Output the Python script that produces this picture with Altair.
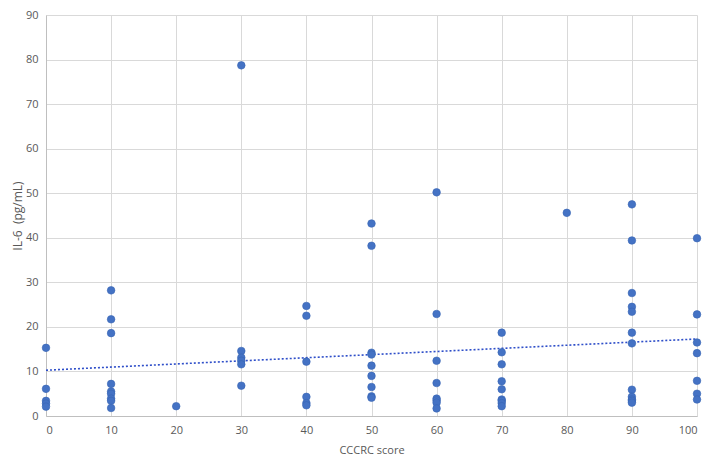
import altair as alt
import pandas as pd

# CCCRC score groups and IL-6 values (pg/mL)
x0 = [15.3, 6.1, 3.4, 2.8, 2.1]
x10 = [28.2, 21.7, 18.6, 7.2, 5.5, 5.0, 3.9, 3.4, 1.8]
x20 = [2.2]
x30 = [78.7, 14.6, 13.1, 12.4, 11.6, 6.8]
x40 = [24.7, 22.5, 12.2, 4.3, 2.9, 2.4]
x50 = [43.2, 38.2, 14.2, 13.8, 11.3, 9.0, 6.5, 4.4, 4.1]
x60 = [50.2, 22.9, 12.4, 7.4, 3.9, 3.5, 3.0, 1.7]
x70 = [18.7, 14.3, 11.6, 7.8, 6.0, 3.7, 3.4, 2.9, 2.2]
x80 = [45.6]
x90 = [47.5, 39.4, 27.6, 24.5, 23.4, 18.7, 16.3, 5.9, 4.3, 3.7, 3.4, 3.0]
x100 = [39.9, 22.8, 16.5, 14.1, 7.9, 5.0, 3.7]

groups = {0: x0, 10: x10, 20: x20, 30: x30, 40: x40, 50: x50,
          60: x60, 70: x70, 80: x80, 90: x90, 100: x100}

rows = []
for score, vals in groups.items():
    for v in vals:
        rows.append({"score": score, "il6": v})
df = pd.DataFrame(rows)

x_ticks = list(range(0, 101, 10))
y_ticks = list(range(0, 91, 10))

font = "Open Sans"

xenc = alt.X("score:Q", scale=alt.Scale(domain=[0, 100], nice=False),
             axis=alt.Axis(values=x_ticks, title="CCCRC score", grid=True,
                           gridColor="#d9d9d9", domainColor="#bfbfbf",
                           ticks=False, labelPadding=8, labelColor="#595959",
                           labelFontSize=11, labelFont=font, titleFont=font,
                           titleFontSize=11, titleColor="#595959",
                           titleFontWeight="normal", titlePadding=9))
yenc = alt.Y("il6:Q", scale=alt.Scale(domain=[0, 90], nice=False),
             axis=alt.Axis(values=y_ticks, title="IL-6\u00a0 (pg/mL)", grid=True,
                           gridColor="#d9d9d9", domainColor="#bfbfbf",
                           ticks=False, labelPadding=8, labelColor="#595959",
                           labelFontSize=11, labelFont=font, titleFont=font,
                           titleFontSize=12, titleColor="#595959",
                           titleFontWeight="normal", titlePadding=1))

points = alt.Chart(df).mark_circle(size=58, color="#4472C4", opacity=1,
                                   stroke="#3864b4", strokeWidth=0.6).encode(x=xenc, y=yenc)

trend = alt.Chart(df).transform_regression("score", "il6", extent=[0, 100]).mark_line(
    color="#2f4fc9", strokeDash=[2, 2], strokeWidth=1.6
).encode(x="score:Q", y="il6:Q")

chart = alt.layer(trend, points).properties(
    width=651, height=401,
    autosize=alt.AutoSizeParams(type="none"),
    padding={"left": 38, "top": 7, "right": 7, "bottom": 43},
).configure_view(stroke=None)

chart.save("out.html", embed_options={"renderer": "svg", "actions": False})
